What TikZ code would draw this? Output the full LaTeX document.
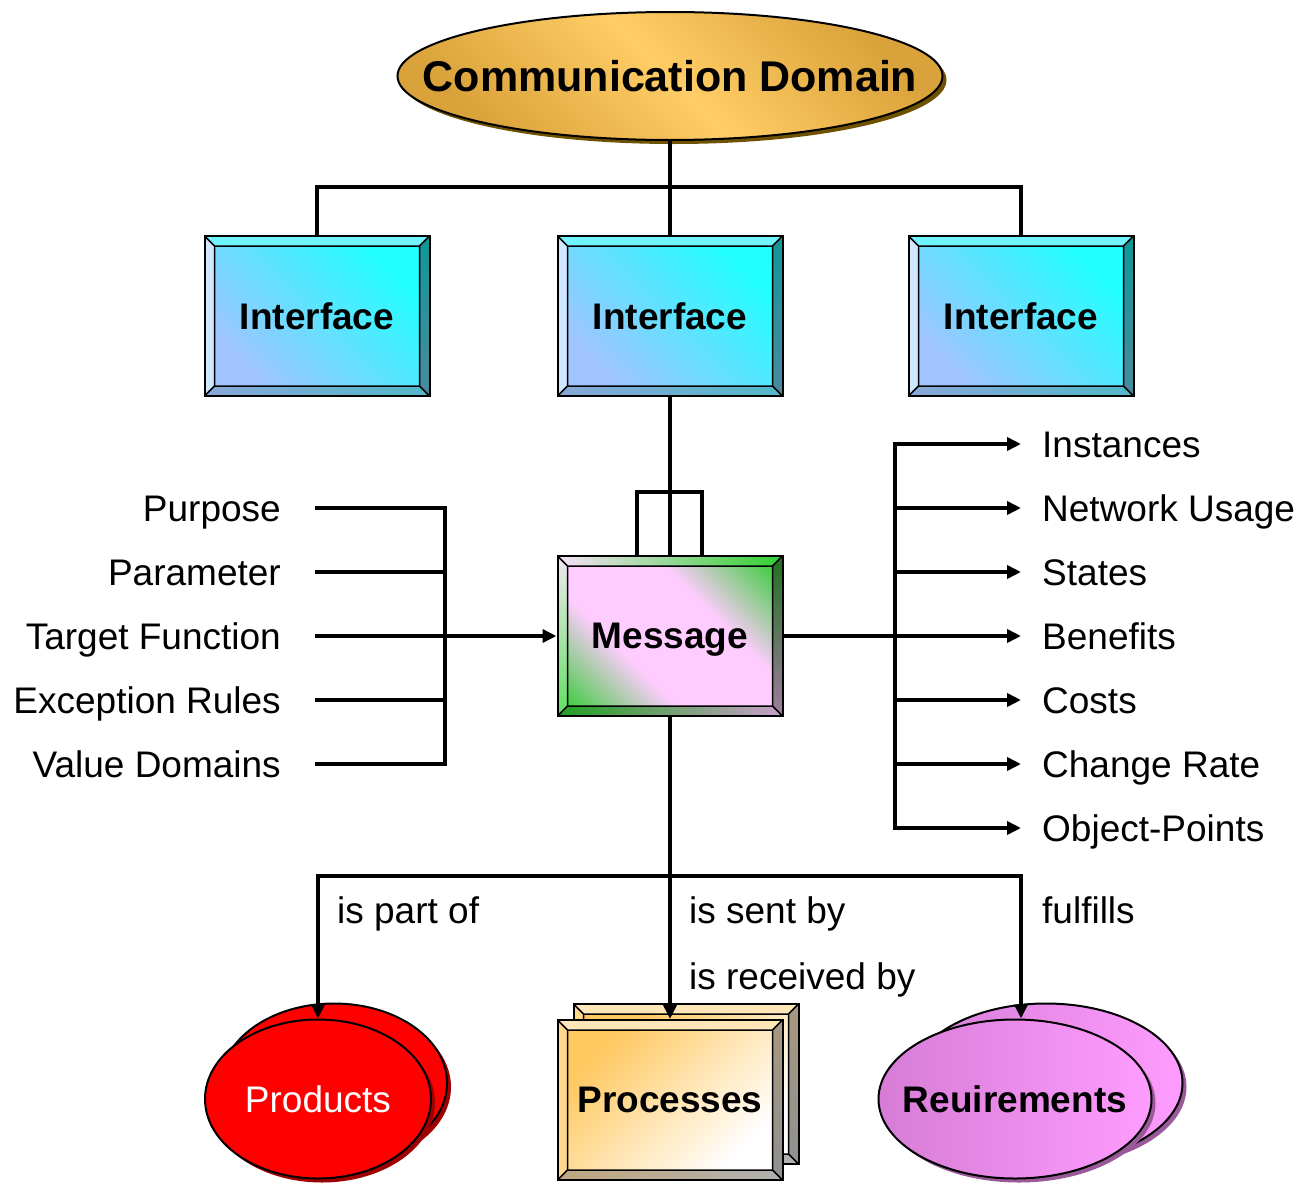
\documentclass[tikz,border=0pt]{standalone}
\usepackage{fontspec}
\setmainfont{Liberation Sans}
\usetikzlibrary{shapes.geometric,shadows,arrows.meta}
\definecolor{ttldark}{HTML}{DAA23A}
\definecolor{ttllight}{HTML}{FFCD66}
\definecolor{ttlshadow}{HTML}{6E5200}
\definecolor{prodred}{HTML}{FF0000}
\definecolor{prodshadow}{HTML}{A00000}
\definecolor{reqdark}{HTML}{D67CD6}
\definecolor{reqlight}{HTML}{FF9CFF}
\definecolor{reqshadow}{HTML}{9A5A9A}
\definecolor{HTML22FFFF}{HTML}{22FFFF}
\definecolor{HTMLA0C4FF}{HTML}{A0C4FF}
\definecolor{HTML70F4FF}{HTML}{70F4FF}
\definecolor{HTMLD0E8FF}{HTML}{D0E8FF}
\definecolor{HTML109898}{HTML}{109898}
\definecolor{HTML4A8AA0}{HTML}{4A8AA0}
\definecolor{HTML88A8D8}{HTML}{88A8D8}
\definecolor{HTML50B8C8}{HTML}{50B8C8}
\definecolor{HTML3CCC3C}{HTML}{3CCC3C}
\definecolor{HTMLFFCCFF}{HTML}{FFCCFF}
\definecolor{HTMLF8E0F8}{HTML}{F8E0F8}
\definecolor{HTML30D030}{HTML}{30D030}
\definecolor{HTMLF0E8F0}{HTML}{F0E8F0}
\definecolor{HTML60E060}{HTML}{60E060}
\definecolor{HTML207020}{HTML}{207020}
\definecolor{HTMLA07CA0}{HTML}{A07CA0}
\definecolor{HTML20A020}{HTML}{20A020}
\definecolor{HTMLC8A0C8}{HTML}{C8A0C8}
\definecolor{HTMLFFC860}{HTML}{FFC860}
\definecolor{HTMLFFE6B8}{HTML}{FFE6B8}
\definecolor{HTMLFFD890}{HTML}{FFD890}
\definecolor{HTMLA89880}{HTML}{A89880}
\definecolor{HTML909090}{HTML}{909090}
\definecolor{HTMLC0A880}{HTML}{C0A880}
\definecolor{HTMLB0B0B0}{HTML}{B0B0B0}
\pgfdeclareverticalshading{msgshade}{100bp}{color(0bp)=(HTML3CCC3C); color(14bp)=(HTML3CCC3C);
  color(37bp)=(HTMLFFCCFF); color(63bp)=(HTMLFFCCFF); color(86bp)=(HTML3CCC3C); color(100bp)=(HTML3CCC3C)}
\tikzset{
  txt/.style={font=\fontsize{37}{41}\selectfont, inner sep=0pt},
  btxt/.style={font=\fontsize{37}{41}\selectfont\bfseries, inner sep=0pt},
  conn/.style={line width=4pt, line cap=rect},
  arr/.style={line width=4pt, -{Triangle[length=14pt,width=13pt]}},
  bevelbox/.style n args={5}{minimum width=225pt, minimum height=160pt, btxt,
    text depth=0pt, draw=black, line width=2pt,
    path picture={
      \path (path picture bounding box.south west) coordinate (bsw)
        (path picture bounding box.north east) coordinate (bne)
        (bsw) ++(10pt,10pt) coordinate (isw)
        (bne) ++(-10pt,-10pt) coordinate (ine);
      \path[#1] (isw) rectangle (ine);
      \path[#2] (bsw|-bne) -- (bne) -- (ine) -- (isw|-ine) -- cycle;
      \path[#3] (bsw) -- (bsw|-bne) -- (isw|-ine) -- (isw) -- cycle;
      \path[#4] (bne|-bsw) -- (bne) -- (ine) -- (ine|-isw) -- cycle;
      \path[#5] (bsw) -- (bne|-bsw) -- (ine|-isw) -- (isw) -- cycle;
      \draw[line width=1.5pt] (isw) rectangle (ine)
        (bsw) -- (isw) (bne) -- (ine) (bsw|-bne) -- (isw|-ine) (bne|-bsw) -- (ine|-isw);
    }},
  ifbox/.style={bevelbox={top color=HTML22FFFF, bottom color=HTMLA0C4FF, shading angle=-45}%
    {fill=HTML70F4FF}{fill=HTMLD0E8FF}%
    {top color=HTML109898, bottom color=HTML4A8AA0}%
    {left color=HTML88A8D8, right color=HTML50B8C8}},
  msgbox/.style={bevelbox={shading=msgshade, shading angle=-45}%
    {left color=HTMLF8E0F8, right color=HTML30D030}%
    {top color=HTMLF0E8F0, bottom color=HTML60E060}%
    {top color=HTML207020, bottom color=HTMLA07CA0}%
    {left color=HTML20A020, right color=HTMLC8A0C8}},
  procbox/.style={bevelbox={top color=HTMLFFC860, bottom color=white, shading angle=45}%
    {fill=HTMLFFE6B8}{fill=HTMLFFD890}%
    {top color=HTMLA89880, bottom color=HTML909090}%
    {left color=HTMLC0A880, right color=HTMLB0B0B0}},
  ell/.style={ellipse, draw=black, line width=2pt, inner sep=0pt}
}
\begin{document}
\begin{tikzpicture}[x=1pt, y=-1pt]
\useasboundingbox (0,0) rectangle (1301,1183);
% top
\node[ell, minimum width=545pt, minimum height=128pt,
  top color=ttldark, bottom color=ttldark, middle color=ttllight, shading angle=-45,
  drop shadow={shadow xshift=4pt, shadow yshift=-4pt, fill=ttlshadow, opacity=1},
  font=\fontsize{43}{47}\selectfont\bfseries] (dom) at (670,76) {\makebox[0pt]{Communication Domain}};
\node[ifbox] (intf1) at (317,316) {Interface};
\node[ifbox] (intf2) at (670,316) {Interface};
\node[ifbox] (intf3) at (1021,316) {Interface};
\node[msgbox] (msg) at (670,636) {Message};
% bottom
\node[ell, minimum width=226pt, minimum height=159pt, fill=prodred,
  drop shadow={shadow xshift=4pt, shadow yshift=-4pt, fill=prodshadow, opacity=1}] (prodback) at (334,1083) {};
\node[ell, minimum width=226pt, minimum height=159pt, fill=prodred, txt, text=white,
  drop shadow={shadow xshift=4pt, shadow yshift=-4pt, fill=prodshadow, opacity=1}] (prod) at (318,1099) {Products};
\node[procbox] (procback) at (686,1084) {};
\node[procbox] (proc) at (670,1100) {Processes};
\node[ell, minimum width=273pt, minimum height=159pt, left color=reqdark, right color=reqlight,
  drop shadow={shadow xshift=4pt, shadow yshift=-4pt, fill=reqshadow, opacity=1}] (reqback) at (1046,1083) {};
\node[ell, minimum width=273pt, minimum height=159pt, left color=reqdark, right color=reqlight, btxt,
  drop shadow={shadow xshift=4pt, shadow yshift=-4pt, fill=reqshadow, opacity=1}] (req) at (1015,1099) {\makebox[0pt]{Reuirements}};
% upper connectors
\coordinate (hub) at (670,187);
\draw[conn, line cap=butt] (intf1.north) |- (hub) -| (intf3.north);
\draw[conn, line cap=butt] (dom.south) -- (intf2.north);
\draw[conn, line cap=butt] (intf2.south) -- (msg.north);
\path (637,492) coordinate (lpl) (702,492) coordinate (lpr);
\draw[conn, line cap=butt] (lpl |- msg.north) -- (lpl) -- (lpr) -- (lpr |- msg.north);
% left side
\foreach \t [count=\i] in {Purpose,Parameter,Target Function,Exception Rules,Value Domains}{
  \node[txt, anchor=base east] (lp\i) at (281,457+64*\i) {\t};
  \coordinate (lb\i) at (445,444+64*\i);
  \draw[conn] ([xshift=36pt]lp\i.east |- lb\i) -- (lb\i);
}
\draw[conn] (lb1) -- (lb5);
\draw[arr] (lb3) -- (msg.west);
% right side
\foreach \t [count=\i] in {Instances,Network Usage,States,Benefits,Costs,Change Rate,Object-Points}{
  \node[txt, anchor=base west] (rp\i) at (1042,393+64*\i) {\t};
  \coordinate (rb\i) at (895,380+64*\i);
  \draw[arr] (rb\i) -- ([xshift=-21pt]rp\i.west |- rb\i);
}
\draw[conn] (rb1) -- (rb7);
\draw[conn, line cap=butt] (msg.east) -- (rb4);
% lower connectors
\path (670,876) coordinate (bhub) (318,876) coordinate (bl) (1021,876) coordinate (br);
\draw[conn, line cap=butt] (msg.south) -- (bhub);
\draw[conn] (bl) -- (br);
\draw[arr] (bl) -- (prod.north);
\draw[arr] (bhub) -- (proc.north);
\draw[arr] (br) -- (br |- req.north);
\node[txt, anchor=base west] (lpart) at (337,923) {is part of};
\node[txt, anchor=base west] (lsent) at (689,923) {is sent by};
\node[txt, anchor=base west] (lrecv) at (689,989) {is received by};
\node[txt, anchor=base west] (lfulf) at (1042,923) {fulfills};
\end{tikzpicture}
\end{document}
